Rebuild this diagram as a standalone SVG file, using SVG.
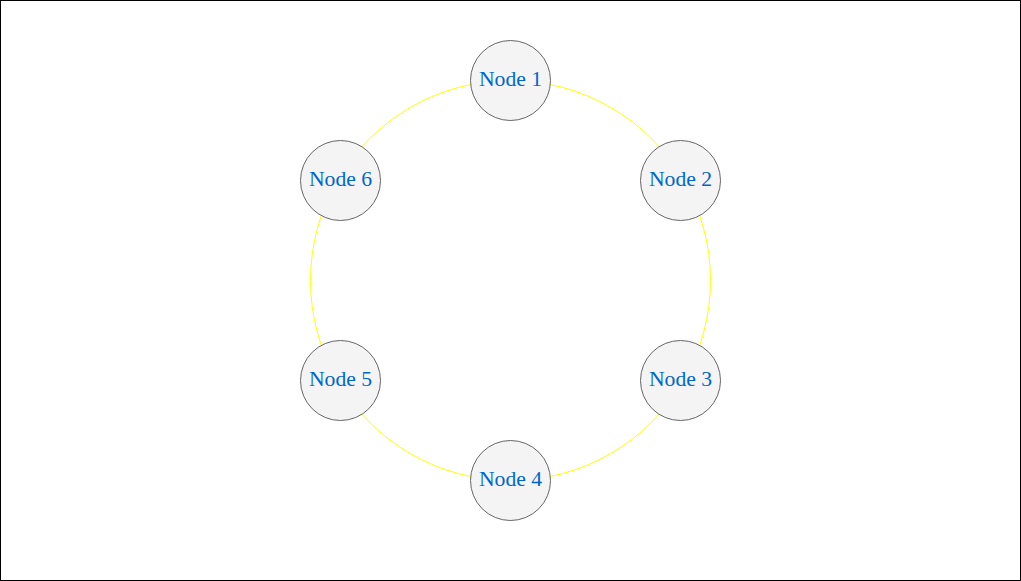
<svg xmlns="http://www.w3.org/2000/svg" width="1021" height="581" viewBox="0 0 1021 581">
<style>
.node circle{fill:#f4f4f4;stroke:#666666;stroke-width:1}
.node text{font-family:"Liberation Serif",serif;font-size:21.7px;fill:#0066cc;text-anchor:middle;dominant-baseline:central}
.edge{fill:none;stroke:#ffff00;stroke-width:1}
</style>
<rect x="0.5" y="0.5" width="1020" height="580" fill="#ffffff" stroke="#000000"/>
<g id="connectors">
<path class="edge" d="M510.5,80.5 A200,200 0 0 1 683.7,180.5"/>
<path class="edge" d="M683.7,180.5 A200,200 0 0 1 683.7,380.5"/>
<path class="edge" d="M683.7,380.5 A200,200 0 0 1 510.5,480.5"/>
<path class="edge" d="M510.5,480.5 A200,200 0 0 1 337.3,380.5"/>
<path class="edge" d="M337.3,380.5 A200,200 0 0 1 337.3,180.5"/>
<path class="edge" d="M337.3,180.5 A200,200 0 0 1 510.5,80.5"/>
</g>
<g id="node1" class="node"><circle cx="510.5" cy="80.5" r="40"/><text x="510.5" y="79">Node 1</text></g>
<g id="node2" class="node"><circle cx="680.5" cy="180.5" r="40"/><text x="680.5" y="179">Node 2</text></g>
<g id="node3" class="node"><circle cx="680.5" cy="380.5" r="40"/><text x="680.5" y="379">Node 3</text></g>
<g id="node4" class="node"><circle cx="510.5" cy="480.5" r="40"/><text x="510.5" y="479">Node 4</text></g>
<g id="node5" class="node"><circle cx="340.5" cy="380.5" r="40"/><text x="340.5" y="379">Node 5</text></g>
<g id="node6" class="node"><circle cx="340.5" cy="180.5" r="40"/><text x="340.5" y="179">Node 6</text></g>
</svg>
